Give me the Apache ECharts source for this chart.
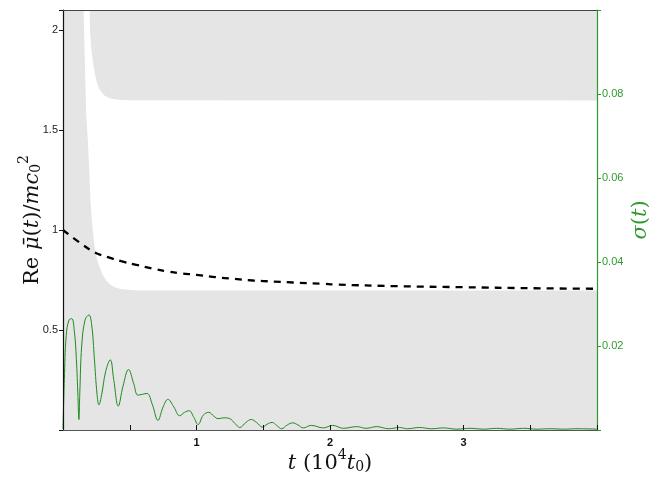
<!DOCTYPE html>
<html>
<head>
<meta charset="utf-8">
<script src="https://cdn.jsdelivr.net/npm/echarts@6/dist/echarts.min.js"></script>
<style>html,body{margin:0;padding:0;background:#fff}#c{width:664px;height:479px}</style>
</head>
<body>
<div id="c"></div>
<script>
// x-axis: t in units of 10^4 t0
var xTicks = [0, 0.5, 1, 1.5, 2, 2.5, 3, 3.5, 4];
var xLabels = [1, 2, 3];
var leftTicks = [0.5, 1, 1.5, 2];
var rightTicks = [0.02, 0.04, 0.06, 0.08];

// upper boundary of the white (allowed) band
var upperT = [0, 0.199, 0.2025, 0.2116, 0.221, 0.229, 0.24, 0.2536, 0.27, 0.291, 0.311, 0.336, 0.371, 0.411, 0.5, 4];
var upperV = [2.1, 2.1, 1.9975, 1.9075, 1.8575, 1.8225, 1.7775, 1.7375, 1.7075, 1.6875, 1.6725, 1.6625, 1.655, 1.651, 1.649, 1.648];

// lower boundary of the white band
var lowerT = [0, 0.154, 0.1635, 0.174, 0.186, 0.199, 0.206, 0.216, 0.229, 0.2416, 0.255, 0.274, 0.296, 0.324, 0.349, 0.386, 0.431, 0.486, 0.574, 4];
var lowerV = [2.1, 2.1, 1.8475, 1.5725, 1.4475, 1.2625, 1.1475, 1.0475, 0.9575, 0.8975, 0.8525, 0.814, 0.7775, 0.7475, 0.73, 0.714, 0.705, 0.701, 0.6975, 0.6975];

// Re mu(t)/mc0^2 (dashed)
var muT = [0, 0.137, 0.236, 0.336, 0.436, 0.549, 0.674, 0.774, 0.874, 1.0, 1.149, 1.274, 1.424, 1.574, 1.724, 1.949, 2.037, 2.5, 3.0, 3.5, 4.0];
var muV = [1.0, 0.931, 0.889, 0.864, 0.844, 0.826, 0.806, 0.794, 0.784, 0.776, 0.764, 0.756, 0.7475, 0.7425, 0.7375, 0.731, 0.7275, 0.719, 0.714, 0.709, 0.706];

// sigma(t) (green, right axis)
var sigT = [0, 0.01, 0.024, 0.045, 0.066, 0.085, 0.1, 0.112, 0.119, 0.126, 0.14, 0.165, 0.194, 0.215, 0.235, 0.255, 0.269, 0.29, 0.32, 0.354, 0.38, 0.414, 0.45, 0.491, 0.53, 0.561, 0.595, 0.629, 0.67, 0.711, 0.75, 0.786, 0.83, 0.874, 0.91, 0.945, 0.98, 1.012, 1.05, 1.092, 1.13, 1.161, 1.205, 1.249, 1.29, 1.324, 1.37, 1.41, 1.45, 1.494, 1.53, 1.567, 1.6, 1.637, 1.68, 1.72, 1.76, 1.8, 1.86, 1.95, 2.02, 2.1, 2.2, 2.27, 2.35, 2.44, 2.52, 2.58, 2.67, 2.76, 2.85, 2.95, 3.05, 3.15, 3.25, 3.35, 3.45, 3.55, 3.65, 3.75, 3.85, 4.0];
var sigV = [0.0003, 0.012, 0.0225, 0.0262, 0.0265, 0.0235, 0.017, 0.008, 0.0025, 0.009, 0.020, 0.0262, 0.0274, 0.025, 0.017, 0.0085, 0.006, 0.0085, 0.014, 0.0167, 0.012, 0.0057, 0.0105, 0.0144, 0.011, 0.0083, 0.0085, 0.0087, 0.006, 0.0023, 0.0055, 0.0073, 0.0055, 0.0034, 0.0042, 0.0046, 0.003, 0.0013, 0.0035, 0.0042, 0.0033, 0.0027, 0.0029, 0.0027, 0.0015, 0.0006, 0.0018, 0.0025, 0.0018, 0.0007, 0.0014, 0.0018, 0.0011, 0.0003, 0.0012, 0.0017, 0.0012, 0.0005, 0.0011, 0.0005, 0.0011, 0.0004, 0.0008, 0.0004, 0.0008, 0.0003, 0.0006, 0.0003, 0.0006, 0.0003, 0.0005, 0.0002, 0.0004, 0.0002, 0.0004, 0.0002, 0.0004, 0.0002, 0.0003, 0.0002, 0.0003, 0.0002];

function zip(a, b) { return a.map(function (v, i) { return [v, b[i]]; }); }
function near(v, arr) { for (var i = 0; i < arr.length; i++) { if (Math.abs(v - arr[i]) < 1e-9) return arr[i]; } return null; }

var GRAY = '#e5e5e5';
var GREEN = '#2e9a2e';
var SERIF = 'DejaVu Serif';
var mathRich = function (col) {
  return {
    i: { fontFamily: SERIF, fontStyle: 'italic', fontSize: 21, color: col, lineHeight: 26, verticalAlign: 'bottom' },
    r: { fontFamily: SERIF, fontSize: 21, color: col, lineHeight: 26, verticalAlign: 'bottom' },
    sup: { fontFamily: SERIF, fontSize: 14, color: col, lineHeight: 26, verticalAlign: 'top' },
    sub: { fontFamily: SERIF, fontSize: 14, color: col, lineHeight: 20, verticalAlign: 'bottom' }
  };
};
var chart = echarts.init(document.getElementById('c'), null, { renderer: 'canvas' });
chart.setOption({
  animation: false,
  backgroundColor: '#fff',
  grid: { left: 63, right: 67, top: 10, bottom: 49, show: true, backgroundColor: GRAY, borderWidth: 0,
    containLabel: false, outerBoundsMode: 'none' },
  xAxis: [{
    type: 'value', min: 0, max: 4, interval: 0.5, z: 10,
    name: '{i|t}{r| (10}{sup|4}{i|t}{sub|0}{r|)}', nameLocation: 'middle', nameGap: 18, nameMoveOverlap: false,
    nameTextStyle: { rich: mathRich('#111') },
    axisLine: { onZero: false, lineStyle: { color: '#555', width: 1.2 } },
    axisTick: { inside: true, length: 5, lineStyle: { color: '#111' } },
    axisLabel: { margin: 7, fontFamily: 'Liberation Sans', fontWeight: 'bold', fontSize: 11, color: '#111',
      formatter: function (v) { var n = near(v, xLabels); return n === null ? '' : String(n); } },
    splitLine: { show: false }
  }, {
    type: 'value', min: 0, max: 4, position: 'top', z: 10,
    axisLine: { show: true, onZero: false, lineStyle: { color: '#444', width: 1 } },
    axisTick: { show: false }, axisLabel: { show: false }, splitLine: { show: false }
  }],
  yAxis: [{
    type: 'value', min: 0, max: 2.1, interval: 0.5, position: 'left', z: 10,
    name: '{r|Re }{i|μ̄}{r|(}{i|t}{r|)/}{i|mc}{sub|0}{sup|2}', nameLocation: 'middle', nameGap: 20, nameRotate: 90,
    nameMoveOverlap: false,
    nameTextStyle: { rich: mathRich('#111') },
    axisLine: { show: true, onZero: false, lineStyle: { color: '#111', width: 1.2 } },
    axisTick: { show: true, inside: false, length: 4, lineStyle: { color: '#111' } },
    axisLabel: { margin: 5, fontFamily: 'Liberation Sans', fontSize: 11, color: '#222',
      formatter: function (v) { var n = near(v, leftTicks); return n === null ? '' : String(n); } },
    splitLine: { show: false }
  }, {
    type: 'value', min: 0, max: 0.1, interval: 0.02, position: 'right', z: 10,
    name: '{i|σ}{r|(}{i|t}{r|)}', nameLocation: 'middle', nameGap: 28, nameRotate: 90, nameMoveOverlap: false,
    nameTextStyle: { rich: mathRich(GREEN) },
    axisLine: { show: true, onZero: false, lineStyle: { color: GREEN, width: 1.2 } },
    axisTick: { show: true, inside: false, length: 4, lineStyle: { color: GREEN } },
    axisLabel: { margin: 5, fontFamily: 'Liberation Sans', fontSize: 11, color: GREEN,
      formatter: function (v) { var n = near(v, rightTicks); return n === null ? '' : n.toFixed(2); } },
    splitLine: { show: false }
  }],
  series: [{
    type: 'line', xAxisIndex: 0, yAxisIndex: 0, data: zip(upperT, upperV), smooth: false,
    showSymbol: false, silent: true, lineStyle: { width: 0 }, areaStyle: { color: '#ffffff', opacity: 1 }, z: 1
  }, {
    type: 'line', xAxisIndex: 0, yAxisIndex: 0, data: zip(lowerT, lowerV), smooth: false,
    showSymbol: false, silent: true, lineStyle: { width: 0 }, areaStyle: { color: GRAY, opacity: 1 }, z: 2
  }, {
    type: 'line', xAxisIndex: 0, yAxisIndex: 0, data: zip(muT, muV), smooth: 0.4,
    showSymbol: false, lineStyle: { color: '#000', width: 2.3, type: [7, 6] }, z: 3
  }, {
    type: 'line', xAxisIndex: 0, yAxisIndex: 1, data: zip(sigT, sigV), smooth: 0.4,
    showSymbol: false, lineStyle: { color: '#1f8a1f', width: 1 }, z: 4
  }]
});
</script>
</body>
</html>
